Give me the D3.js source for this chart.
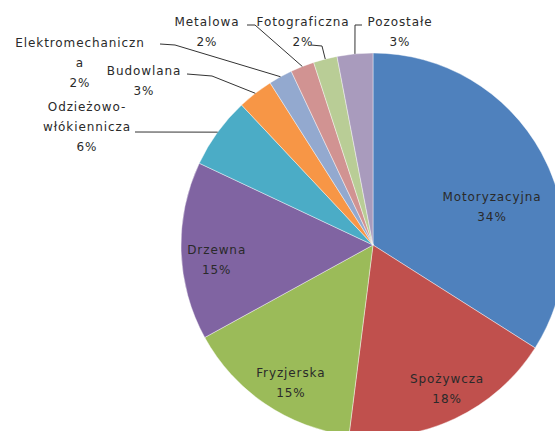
<!DOCTYPE html>
<html>
<head>
<meta charset="utf-8">
<script src="https://cdn.jsdelivr.net/npm/d3@7"></script>
<style>
  html, body { margin: 0; padding: 0; background: #fff; overflow: hidden; }
  svg text { font-family: "DejaVu Sans", Verdana, sans-serif; font-size: 12px; letter-spacing: 0.9px; fill: #2a2a2a; }
</style>
</head>
<body>
<div id="app"></div>
<script>
const categories = ["Motoryzacyjna", "Spożywcza", "Fryzjerska", "Drzewna", "Odzieżowo-włókiennicza",
  "Budowlana", "Elektromechaniczna", "Metalowa", "Fotograficzna", "Pozostałe"];
const shares = [34, 18, 15, 15, 6, 3, 2, 2, 2, 3];
const labelLines = [
  ["Motoryzacyjna"], ["Spożywcza"], ["Fryzjerska"], ["Drzewna"], ["Odzieżowo-", "włókiennicza"],
  ["Budowlana"], ["Elektromechaniczn", "a"], ["Metalowa"], ["Fotograficzna"], ["Pozostałe"]
];
const colors = ["#4f81bd", "#c0504d", "#9bbb59", "#8064a2", "#4bacc6",
  "#f79646", "#93a9cf", "#d19392", "#b9cd96", "#a99bbd"];

const W = 555, H = 431;
const cx = 373, cy = 245, R = 192;

const svg = d3.select("#app").append("svg")
  .attr("width", W).attr("height", H);

const data = categories.map((c, i) => ({ name: c, value: shares[i], lines: labelLines[i], i: i }));

const pie = d3.pie().value(d => d.value).sort(null);
const arcs = pie(data);
const arc = d3.arc().innerRadius(0).outerRadius(R);

const g = svg.append("g").attr("transform", `translate(${cx},${cy})`);

g.selectAll("path")
  .data(arcs)
  .enter()
  .append("path")
  .attr("d", arc)
  .style("fill", d => colors[d.data.i])
  .style("stroke", "#fff")
  .style("stroke-width", 0.6)
  .style("stroke-opacity", 0.7);

// inside labels (big slices) - radius factor, optional angle nudge (Excel "best fit")
const inside = { 0: { r: 125, da: 11 }, 1: { r: 162, da: -2 }, 2: { r: 161, da: -3.5 }, 3: { r: 157, da: -3.5 } };
const toRad = Math.PI / 180;

arcs.filter(d => inside[d.data.i]).forEach(d => {
  const o = inside[d.data.i];
  const a = (d.startAngle + d.endAngle) / 2 + o.da * toRad;
  const x = o.r * Math.sin(a), y = -o.r * Math.cos(a);
  const t = g.append("text").attr("text-anchor", "middle")
    .attr("x", x).attr("y", y - 10 + 4);
  t.append("tspan").attr("x", x).text(d.data.name);
  t.append("tspan").attr("x", x).attr("dy", 20).text(d.value + "%");
});

// outside labels: text centre, first line y, leader start + elbow (page coords)
const outside = {
  4: { x: 87, y: 107, lead: [[135, 132], [135, 132]] },
  5: { x: 144, y: 71, lead: [[187, 74], [212, 76]] },
  6: { x: 80, y: 43, lead: [[160, 44], [175, 45]] },
  7: { x: 207, y: 22, lead: [[247, 25], [255, 25]] },
  8: { x: 303, y: 22, lead: [[311, 45], [322, 46]] },
  9: { x: 400, y: 22, lead: [[362, 25], [355, 25]] }
};

arcs.filter(d => outside[d.data.i]).forEach(d => {
  const o = outside[d.data.i];
  const a = (d.startAngle + d.endAngle) / 2;
  const px = cx + R * Math.sin(a), py = cy - R * Math.cos(a);
  const t = svg.append("text").attr("text-anchor", "middle").attr("y", o.y + 4);
  d.data.lines.forEach((ln, k) => {
    t.append("tspan").attr("x", o.x).attr("dy", k === 0 ? 0 : 20).text(ln);
  });
  t.append("tspan").attr("x", o.x).attr("dy", 20).text(d.value + "%");
  svg.append("path")
    .attr("d", d3.line()([o.lead[0], o.lead[1], [px, py]]))
    .style("fill", "none")
    .style("stroke", "#333")
    .style("stroke-width", 1);
});
</script>
</body>
</html>
